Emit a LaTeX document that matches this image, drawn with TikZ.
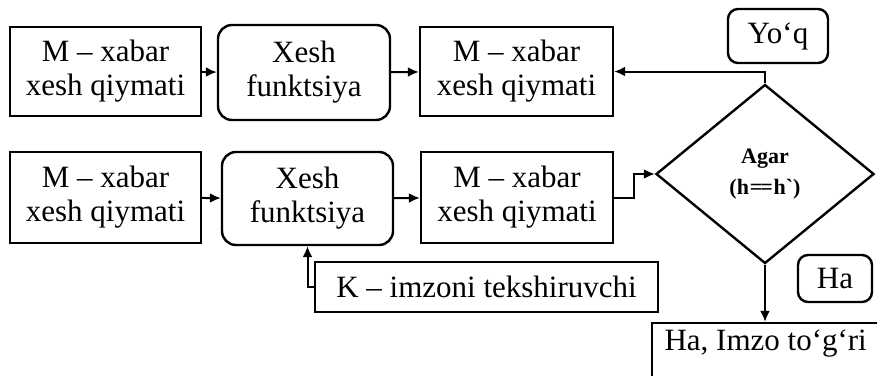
\documentclass[tikz,border=0pt]{standalone}
\usepackage{fontspec}
\setmainfont{Liberation Serif}
\usepackage{tikz}
\usetikzlibrary{shapes.geometric}
\usetikzlibrary{arrows.meta}

\begin{document}
\begin{tikzpicture}[x=1pt, y=-1pt,
        box/.style={draw, line width=2.4pt, align=center, inner sep=0pt,
            font=\fontsize{31}{34}\selectfont},
        rbox/.style={box, rounded corners=14pt},
        dec/.style={draw, diamond, line width=2.4pt, align=center, inner sep=0pt,
            font=\bfseries\fontsize{22}{31}\selectfont},
        arr/.style={line width=2pt, -{Latex[length=11pt,width=10pt]}}]
        \useasboundingbox (0,0) rectangle (877,375);
        \clip (0,0) rectangle (877,375);

        \node[box, minimum width=191pt, minimum height=89pt] (xq1) at (105.5,71.5) {M -- xabar\\xesh qiymati};
        \node[rbox, minimum width=172pt, minimum height=95pt] (xf1) at (304,72.5) {Xesh\\funktsiya};
        \node[box, minimum width=193pt, minimum height=89pt] (xh1) at (516.5,71.5) {M -- xabar\\xesh qiymati};

        \node[box, minimum width=191pt, minimum height=91pt] (xq2) at (105.5,197.5) {M -- xabar\\xesh qiymati};
        \node[rbox, minimum width=171pt, minimum height=93pt] (xf2) at (307.5,198.5) {Xesh\\funktsiya};
        \node[box, minimum width=192pt, minimum height=91pt] (xh2) at (517,197.5) {M -- xabar\\xesh qiymati};

        \node[box, minimum width=343pt, minimum height=50pt] (kimzo) at (486.5,287) {K -- imzoni tekshiruvchi};

        \node[dec, minimum width=218pt, minimum height=179pt] (agar) at (765,174) {Agar\\(h\kern0.04em=\kern-0.1em=\kern0.04em h\textasciigrave)};
        \node[rbox, rounded corners=10pt, minimum width=100pt, minimum height=54pt] (yoq) at (778,36) {Yo‘q};
        \node[rbox, rounded corners=10pt, minimum width=74pt, minimum height=47pt] (ha) at (835,278.5) {Ha};
        \node[box, minimum width=240pt, minimum height=70pt] (imzo) at (772,358) {};
        \node[font=\fontsize{31}{34}\selectfont, anchor=west] (imzot) at (661,344) {Ha, Imzo to‘g‘ri};

        \draw[arr] (xq1) -- (xf1);
        \draw[arr] (xf1) -- (xh1);
        \draw[arr] (xq2) -- (xf2);
        \draw[arr] (xf2) -- (xh2);
        \draw[arr] (agar.north) |- (xh1.east);
        \draw[arr] (xh2.east) -- ++(20,0) |- (agar.west);
        \draw[arr] (kimzo.west) -| (xf2.south);
        \draw[arr] (agar.south) -- (agar.south |- imzo.north);
\end{tikzpicture}
\end{document}
